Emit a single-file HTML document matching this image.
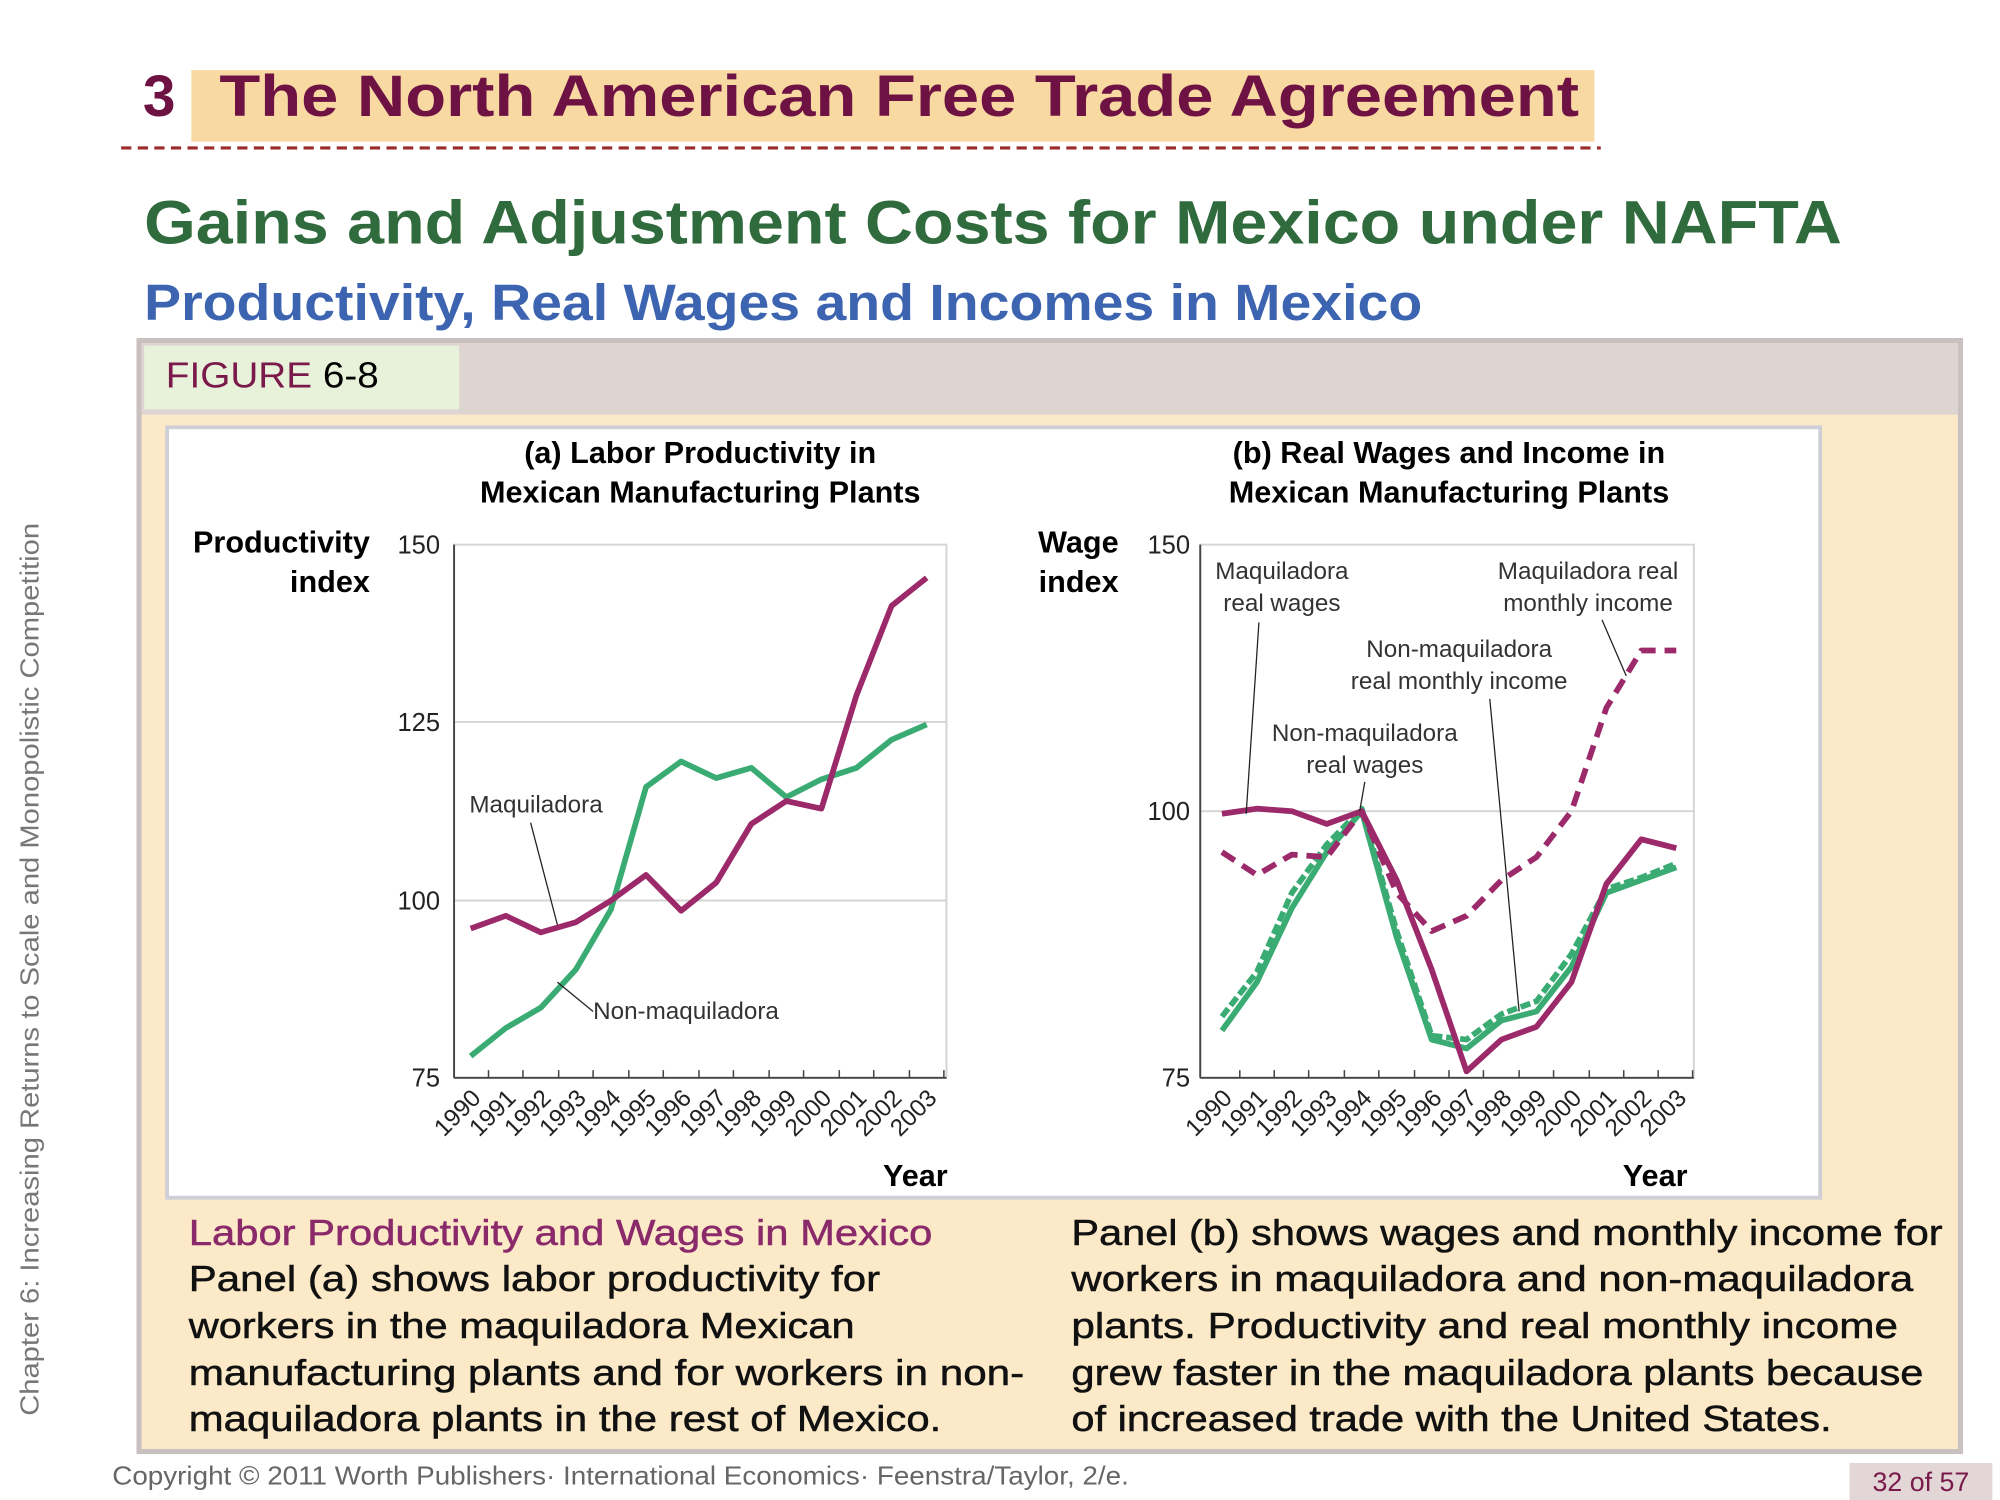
<!DOCTYPE html>
<html><head><meta charset="utf-8"><style>
html,body{margin:0;padding:0;background:#fff;}
svg{display:block;}
.h{font-family:"Liberation Sans",sans-serif;font-weight:bold;}
.n{font-family:"Liberation Sans Narrow","Liberation Sans",sans-serif;}
</style></head><body>
<svg width="2000" height="1500" viewBox="0 0 1568 1176" xmlns="http://www.w3.org/2000/svg">
<rect width="1568" height="1176" fill="#fff"/>
<rect x="150" y="55" width="1100" height="56" fill="#f8d9a2"/>
<text x="112" y="91" class="h" font-size="46" fill="#6e1244">3</text>
<text x="172" y="91" class="h" font-size="46" fill="#6e1244" textLength="1066" lengthAdjust="spacingAndGlyphs">The North American Free Trade Agreement</text>
<line x1="95" y1="116" x2="1255" y2="116" stroke="#9b2a2a" stroke-width="2.5" stroke-dasharray="8,5"/>
<text x="113" y="191" class="h" font-size="48" fill="#2f6b3c" textLength="1331" lengthAdjust="spacingAndGlyphs">Gains and Adjustment Costs for Mexico under NAFTA</text>
<text x="113" y="251" class="h" font-size="40" fill="#3c64b0" textLength="1002" lengthAdjust="spacingAndGlyphs">Productivity, Real Wages and Incomes in Mexico</text>
<rect x="109" y="267" width="1428" height="871" fill="#fbe9c8" stroke="#c9c0c0" stroke-width="4"/>
<rect x="111" y="269" width="1424" height="56" fill="#ded5d2"/>
<rect x="113" y="271" width="247" height="50" fill="#e8f1da"/>
<text x="130" y="304" font-family="Liberation Sans,sans-serif" font-size="28" textLength="167" lengthAdjust="spacingAndGlyphs"><tspan fill="#7a1a4a">FIGURE </tspan><tspan fill="#000">6-8</tspan></text>
<rect x="131" y="335" width="1296" height="604" fill="#fff" stroke="#cfcfd8" stroke-width="3"/>
<text transform="translate(30,760) rotate(-90)" text-anchor="middle" font-family="Liberation Sans,sans-serif" font-size="20" fill="#777" textLength="700" lengthAdjust="spacingAndGlyphs">Chapter 6: Increasing Returns to Scale and Monopolistic Competition</text>

<g class="n">
<text x="549" y="363" text-anchor="middle" font-size="24" font-weight="bold">(a) Labor Productivity in</text>
<text x="549" y="394" text-anchor="middle" font-size="24" font-weight="bold">Mexican Manufacturing Plants</text>
<text x="290" y="433" text-anchor="end" font-size="24" font-weight="bold">Productivity</text>
<text x="290" y="464" text-anchor="end" font-size="24" font-weight="bold">index</text>
<g font-size="20" fill="#222" text-anchor="end">
<text x="345" y="434">150</text><text x="345" y="573">125</text><text x="345" y="713">100</text><text x="345" y="852">75</text>
</g>
</g>
<rect x="356" y="427" width="386" height="418" fill="none" stroke="#d4d4d4" stroke-width="1.5"/>
<line x1="356" y1="566" x2="742" y2="566" stroke="#d4d4d4" stroke-width="1.5"/>
<line x1="356" y1="706" x2="742" y2="706" stroke="#d4d4d4" stroke-width="1.5"/>
<line x1="356" y1="427" x2="356" y2="845" stroke="#444" stroke-width="1.5"/>
<line x1="356" y1="845" x2="742" y2="845" stroke="#444" stroke-width="1.5"/>
<g stroke="#444" stroke-width="1.2">
<line x1="383" y1="839" x2="383" y2="845"/><line x1="410" y1="839" x2="410" y2="845"/><line x1="438" y1="839" x2="438" y2="845"/><line x1="465" y1="839" x2="465" y2="845"/><line x1="493" y1="839" x2="493" y2="845"/><line x1="520" y1="839" x2="520" y2="845"/><line x1="548" y1="839" x2="548" y2="845"/><line x1="575" y1="839" x2="575" y2="845"/><line x1="603" y1="839" x2="603" y2="845"/><line x1="630" y1="839" x2="630" y2="845"/><line x1="658" y1="839" x2="658" y2="845"/><line x1="685" y1="839" x2="685" y2="845"/><line x1="713" y1="839" x2="713" y2="845"/><line x1="740" y1="839" x2="740" y2="845"/>
</g>
<polyline fill="none" stroke="#3aac73" stroke-width="4.5" stroke-linejoin="round" points="369,828 396.5,806 424,790 451.5,760 479,713 506.5,617 534,597 561.5,610 589,602 616.5,625 644,611 671.5,602 699,580 726.5,568"/>
<polyline fill="none" stroke="#9c2a6a" stroke-width="4.5" stroke-linejoin="round" points="369,728 396.5,718 424,731 451.5,723 479,706 506.5,686 534,714 561.5,692 589,646 616.5,628 644,634 671.5,545 699,475 726.5,453"/>
<g class="n" font-size="19" fill="#333">
<text x="368" y="637">Maquiladora</text>
<text x="465" y="799">Non-maquiladora</text>
</g>
<line x1="416" y1="645" x2="437" y2="725" stroke="#222" stroke-width="1"/>
<line x1="437" y1="770" x2="465" y2="793" stroke="#222" stroke-width="1"/>
<g class="n" font-size="19" fill="#222" text-anchor="end">
<text transform="translate(378,862) rotate(-45)">1990</text><text transform="translate(405.5,862) rotate(-45)">1991</text><text transform="translate(433,862) rotate(-45)">1992</text><text transform="translate(460.5,862) rotate(-45)">1993</text><text transform="translate(488,862) rotate(-45)">1994</text><text transform="translate(515.5,862) rotate(-45)">1995</text><text transform="translate(543,862) rotate(-45)">1996</text><text transform="translate(570.5,862) rotate(-45)">1997</text><text transform="translate(598,862) rotate(-45)">1998</text><text transform="translate(625.5,862) rotate(-45)">1999</text><text transform="translate(653,862) rotate(-45)">2000</text><text transform="translate(680.5,862) rotate(-45)">2001</text><text transform="translate(708,862) rotate(-45)">2002</text><text transform="translate(735.5,862) rotate(-45)">2003</text>
</g>
<text x="743" y="930" text-anchor="end" class="n" font-size="24" font-weight="bold">Year</text>

<g class="n">
<text x="1136" y="363" text-anchor="middle" font-size="24" font-weight="bold">(b) Real Wages and Income in</text>
<text x="1136" y="394" text-anchor="middle" font-size="24" font-weight="bold">Mexican Manufacturing Plants</text>
<text x="877" y="433" text-anchor="end" font-size="24" font-weight="bold">Wage</text>
<text x="877" y="464" text-anchor="end" font-size="24" font-weight="bold">index</text>
<g font-size="20" fill="#222" text-anchor="end">
<text x="933" y="434">150</text><text x="933" y="643">100</text><text x="933" y="852">75</text>
</g>
</g>
<rect x="941" y="427" width="387" height="418" fill="none" stroke="#d4d4d4" stroke-width="1.5"/>
<line x1="941" y1="636" x2="1328" y2="636" stroke="#d4d4d4" stroke-width="1.5"/>
<line x1="941" y1="427" x2="941" y2="845" stroke="#444" stroke-width="1.5"/>
<line x1="941" y1="845" x2="1328" y2="845" stroke="#444" stroke-width="1.5"/>
<g stroke="#444" stroke-width="1.2">
<line x1="972" y1="839" x2="972" y2="845"/><line x1="999" y1="839" x2="999" y2="845"/><line x1="1026" y1="839" x2="1026" y2="845"/><line x1="1054" y1="839" x2="1054" y2="845"/><line x1="1081" y1="839" x2="1081" y2="845"/><line x1="1109" y1="839" x2="1109" y2="845"/><line x1="1136" y1="839" x2="1136" y2="845"/><line x1="1163" y1="839" x2="1163" y2="845"/><line x1="1191" y1="839" x2="1191" y2="845"/><line x1="1218" y1="839" x2="1218" y2="845"/><line x1="1246" y1="839" x2="1246" y2="845"/><line x1="1273" y1="839" x2="1273" y2="845"/><line x1="1300" y1="839" x2="1300" y2="845"/><line x1="1327" y1="839" x2="1327" y2="845"/>
</g>
<polyline fill="none" stroke="#3aac73" stroke-width="4.5" stroke-linejoin="round" points="958,808 985.4,770 1012.8,712 1040.2,668 1067.6,636 1095,735 1122.4,815 1149.8,822 1177.2,800 1204.6,793 1232,758 1259.4,700 1286.8,690 1314.2,680"/>
<polyline fill="none" stroke="#3aac73" stroke-width="4.5" stroke-dasharray="8,3" stroke-linejoin="round" points="958,797 985.4,762 1012.8,700 1040.2,662 1067.6,634 1095,730 1122.4,812 1149.8,815 1177.2,795 1204.6,785 1232,748 1259.4,697 1286.8,688 1314.2,677"/>
<polyline fill="none" stroke="#9c2a6a" stroke-width="4.5" stroke-linejoin="round" points="958,638 985.4,634 1012.8,636 1040.2,646 1067.6,636 1095,690 1122.4,760 1149.8,840 1177.2,815 1204.6,805 1232,770 1259.4,693 1286.8,658 1314.2,665"/>
<polyline fill="none" stroke="#9c2a6a" stroke-width="4.5" stroke-dasharray="12,7" stroke-linejoin="round" points="958,668 985.4,686 1012.8,670 1040.2,672 1067.6,636 1095,700 1122.4,730 1149.8,718 1177.2,690 1204.6,672 1232,636 1259.4,555 1286.8,510 1314.2,510"/>
<g class="n" font-size="19" fill="#333" text-anchor="middle">
<text x="1005" y="454">Maquiladora</text><text x="1005" y="479">real wages</text>
<text x="1245" y="454">Maquiladora real</text><text x="1245" y="479">monthly income</text>
<text x="1144" y="515">Non-maquiladora</text><text x="1144" y="540">real monthly income</text>
<text x="1070" y="581">Non-maquiladora</text><text x="1070" y="606">real wages</text>
</g>
<g stroke="#222" stroke-width="1">
<line x1="987" y1="488" x2="977" y2="638"/>
<line x1="1256" y1="486" x2="1275" y2="530"/>
<line x1="1168" y1="548" x2="1191" y2="793"/>
<line x1="1070" y1="613" x2="1066" y2="636"/>
</g>
<g class="n" font-size="19" fill="#222" text-anchor="end">
<text transform="translate(967,862) rotate(-45)">1990</text><text transform="translate(994.4,862) rotate(-45)">1991</text><text transform="translate(1021.8,862) rotate(-45)">1992</text><text transform="translate(1049.2,862) rotate(-45)">1993</text><text transform="translate(1076.6,862) rotate(-45)">1994</text><text transform="translate(1104,862) rotate(-45)">1995</text><text transform="translate(1131.4,862) rotate(-45)">1996</text><text transform="translate(1158.8,862) rotate(-45)">1997</text><text transform="translate(1186.2,862) rotate(-45)">1998</text><text transform="translate(1213.6,862) rotate(-45)">1999</text><text transform="translate(1241,862) rotate(-45)">2000</text><text transform="translate(1268.4,862) rotate(-45)">2001</text><text transform="translate(1295.8,862) rotate(-45)">2002</text><text transform="translate(1323.2,862) rotate(-45)">2003</text>
</g>
<text x="1323" y="930" text-anchor="end" class="n" font-size="24" font-weight="bold">Year</text>

<g font-family="Liberation Sans,sans-serif" font-size="28" fill="#111" stroke="#111" stroke-width="0.4">
<text x="148" y="976" fill="#8a2a6a" stroke="#8a2a6a" textLength="583" lengthAdjust="spacingAndGlyphs">Labor Productivity and Wages in Mexico</text>
<text x="148" y="1012" textLength="542" lengthAdjust="spacingAndGlyphs">Panel (a) shows labor productivity for</text>
<text x="148" y="1049" textLength="522" lengthAdjust="spacingAndGlyphs">workers in the maquiladora Mexican</text>
<text x="148" y="1086" textLength="655" lengthAdjust="spacingAndGlyphs">manufacturing plants and for workers in non-</text>
<text x="148" y="1122" textLength="590" lengthAdjust="spacingAndGlyphs">maquiladora plants in the rest of Mexico.</text>
<text x="840" y="976" textLength="683" lengthAdjust="spacingAndGlyphs">Panel (b) shows wages and monthly income for</text>
<text x="840" y="1012" textLength="660" lengthAdjust="spacingAndGlyphs">workers in maquiladora and non-maquiladora</text>
<text x="840" y="1049" textLength="648" lengthAdjust="spacingAndGlyphs">plants. Productivity and real monthly income</text>
<text x="840" y="1086" textLength="668" lengthAdjust="spacingAndGlyphs">grew faster in the maquiladora plants because</text>
<text x="840" y="1122" textLength="596" lengthAdjust="spacingAndGlyphs">of increased trade with the United States.</text>
</g>
<text x="88" y="1164" font-family="Liberation Sans,sans-serif" font-size="20" fill="#666" textLength="797" lengthAdjust="spacingAndGlyphs">Copyright © 2011 Worth Publishers· International Economics· Feenstra/Taylor, 2/e.</text>
<rect x="1450" y="1147" width="112" height="29" fill="#e2d6d6"/>
<text x="1506" y="1169" text-anchor="middle" font-family="Liberation Sans,sans-serif" font-size="21" fill="#7a1a4a">32 of 57</text>
</svg>
</body></html>
